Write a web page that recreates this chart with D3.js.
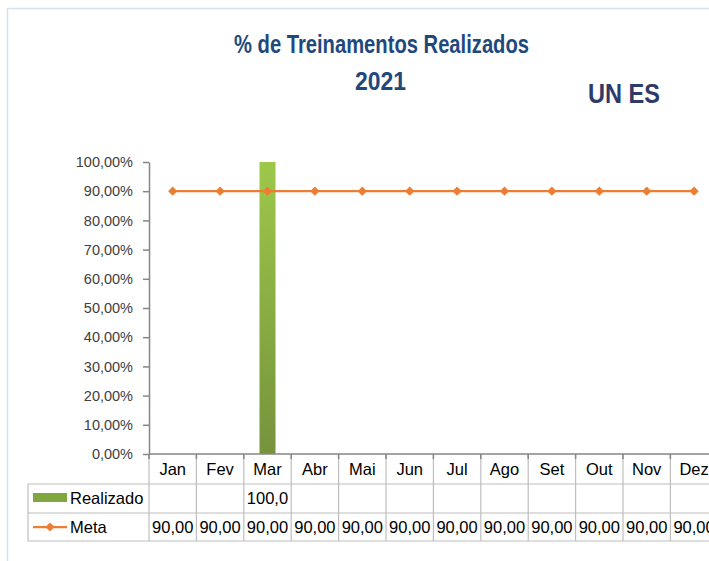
<!DOCTYPE html>
<html>
<head>
<meta charset="utf-8">
<script src="https://cdn.jsdelivr.net/npm/d3@7"></script>
<style>
  body { margin: 0; background: #fff; }
  svg { display: block; }
</style>
</head>
<body>
<div id="chart"></div>
<script>
// data
const months = ["Jan", "Fev", "Mar", "Abr", "Mai", "Jun", "Jul", "Ago", "Set", "Out", "Nov", "Dez"];
const realizado = [null, null, 100, null, null, null, null, null, null, null, null, null];
const meta = [90, 90, 90, 90, 90, 90, 90, 90, 90, 90, 90, 90];
const yTicks = [0, 10, 20, 30, 40, 50, 60, 70, 80, 90, 100];

const W = 709, H = 561;
const plotLeft = 149, step = 47.4;
const plotTop = 162, plotBottom = 454;
const rowLines = [484, 513, 541];
const tableLeft = 28;

const svg = d3.select("#chart")
  .append("svg")
  .attr("width", W)
  .attr("height", H)
  .style("font-family", "'Liberation Sans', Arial, sans-serif");

// chart area border
svg.append("rect")
  .attr("x", 7.5).attr("y", 8.5)
  .attr("width", 800).attr("height", 700)
  .attr("fill", "none")
  .attr("stroke", "#D6E1EF")
  .attr("stroke-width", 1.5);

// titles
const titleFont = "'Liberation Sans', Arial, sans-serif";
svg.append("text")
  .attr("x", 234).attr("y", 53)
  .attr("textLength", 295).attr("lengthAdjust", "spacingAndGlyphs")
  .style("font-family", titleFont).style("font-weight", "bold").style("font-size", "25px")
  .attr("fill", "#1F497D")
  .text("% de Treinamentos Realizados");

svg.append("text")
  .attr("x", 355).attr("y", 90)
  .attr("textLength", 51).attr("lengthAdjust", "spacingAndGlyphs")
  .style("font-family", titleFont).style("font-weight", "bold").style("font-size", "25px")
  .attr("fill", "#1F497D")
  .text("2021");

svg.append("text")
  .attr("x", 588).attr("y", 103)
  .attr("textLength", 72).attr("lengthAdjust", "spacingAndGlyphs")
  .style("font-family", titleFont).style("font-weight", "bold").style("font-size", "28px")
  .attr("fill", "#2E3B68")
  .text("UN ES");

// scales
const x = d3.scaleBand()
  .domain(months)
  .range([plotLeft, plotLeft + step * months.length])
  .padding(0);

const y = d3.scaleLinear()
  .domain([0, 100])
  .range([plotBottom, plotTop]);

const pct = d => d3.format(".2f")(d).replace(".", ",");

// y axis
const yAxis = svg.append("g")
  .attr("transform", `translate(${plotLeft},0)`)
  .call(d3.axisLeft(y)
    .tickValues(yTicks)
    .tickSize(6)
    .tickSizeOuter(0)
    .tickPadding(10)
    .tickFormat(d => pct(d) + "%"));
yAxis.select(".domain").attr("stroke", "#868686").attr("stroke-width", 1.5);
yAxis.selectAll(".tick line").attr("stroke", "#868686").attr("stroke-width", 1.5);
yAxis.selectAll(".tick text")
  .attr("fill", "#404040")
  .style("font-family", "'Liberation Sans', Arial, sans-serif")
  .style("font-size", "14.5px");

// bar gradient
const defs = svg.append("defs");
const grad = defs.append("linearGradient")
  .attr("id", "barGrad")
  .attr("x1", 0).attr("y1", 0).attr("x2", 0).attr("y2", 1);
grad.append("stop").attr("offset", "0%").attr("stop-color", "#9DC84A");
grad.append("stop").attr("offset", "100%").attr("stop-color", "#76933C");

// table grid
const boundaries = d3.range(months.length + 1).map(i => plotLeft + i * step);
const grid = svg.append("g").attr("stroke", "#BEBEBE").attr("stroke-width", 1.2);
grid.selectAll("line.v")
  .data(boundaries)
  .join("line")
  .attr("class", "v")
  .attr("x1", d => d).attr("x2", d => d)
  .attr("y1", plotBottom).attr("y2", rowLines[2]);
grid.selectAll("line.h")
  .data(rowLines)
  .join("line")
  .attr("class", "h")
  .attr("x1", tableLeft).attr("x2", boundaries[boundaries.length - 1])
  .attr("y1", d => d).attr("y2", d => d);
grid.append("line")
  .attr("x1", tableLeft).attr("x2", tableLeft)
  .attr("y1", rowLines[0]).attr("y2", rowLines[2]);

// bars
const barW = 16;
svg.selectAll(".bar")
  .data(months.map((m, i) => ({ m, v: realizado[i] })).filter(d => d.v != null))
  .join("rect")
  .attr("class", "bar")
  .attr("x", d => x(d.m) + x.bandwidth() / 2 - barW / 2)
  .attr("y", d => y(d.v))
  .attr("width", barW)
  .attr("height", d => y(0) - y(d.v))
  .attr("fill", "url(#barGrad)");

// x axis line + category ticks
svg.append("line")
  .attr("x1", plotLeft).attr("x2", boundaries[boundaries.length - 1])
  .attr("y1", plotBottom).attr("y2", plotBottom)
  .attr("stroke", "#868686").attr("stroke-width", 1.5);
svg.selectAll(".xtick")
  .data(boundaries)
  .join("line")
  .attr("class", "xtick")
  .attr("x1", d => d).attr("x2", d => d)
  .attr("y1", plotBottom).attr("y2", plotBottom + 5)
  .attr("stroke", "#868686").attr("stroke-width", 1.5);

// meta line
const metaData = months.map((m, i) => ({ m, v: meta[i] }));
svg.append("path")
  .datum(metaData)
  .attr("fill", "none")
  .attr("stroke", "#ED7D31")
  .attr("stroke-width", 2.25)
  .attr("d", d3.line()
    .x(d => x(d.m) + x.bandwidth() / 2)
    .y(d => y(d.v)));

const diamond = d3.symbol().type(d3.symbolSquare).size(42);
svg.selectAll(".marker")
  .data(metaData)
  .join("path")
  .attr("class", "marker")
  .attr("d", diamond)
  .attr("transform", d => `translate(${x(d.m) + x.bandwidth() / 2},${y(d.v)}) rotate(45)`)
  .attr("fill", "#ED7D31");

// table text
const tableText = svg.append("g")
  .style("font-family", "'Liberation Sans', Arial, sans-serif")
  .style("font-size", "16.5px")
  .attr("fill", "#000");

tableText.selectAll(".month")
  .data(months)
  .join("text")
  .attr("class", "month")
  .attr("x", d => x(d) + x.bandwidth() / 2)
  .attr("y", 475)
  .attr("text-anchor", "middle")
  .text(d => d);

// fit a value into its cell, dropping trailing characters like a spreadsheet
function fitCell(sel) {
  sel.each(function () {
    const t = d3.select(this);
    let s = t.text();
    while (this.getComputedTextLength() > x.bandwidth() - 3 && s.length > 1) {
      s = s.slice(0, -1);
      t.text(s);
    }
  });
}

tableText.selectAll(".real")
  .data(months.map((m, i) => ({ m, v: realizado[i] })).filter(d => d.v != null))
  .join("text")
  .attr("class", "real")
  .attr("x", d => x(d.m) + x.bandwidth() / 2)
  .attr("y", 504)
  .attr("text-anchor", "middle")
  .text(d => pct(d.v))
  .call(fitCell);

tableText.selectAll(".meta")
  .data(metaData)
  .join("text")
  .attr("class", "meta")
  .attr("x", d => x(d.m) + x.bandwidth() / 2)
  .attr("y", 533)
  .attr("text-anchor", "middle")
  .text(d => pct(d.v))
  .call(fitCell);

// legend keys in the table
svg.append("rect")
  .attr("x", 33).attr("y", 493)
  .attr("width", 34).attr("height", 9)
  .attr("fill", "#80A73E");
tableText.append("text")
  .attr("x", 70).attr("y", 504)
  .text("Realizado");

svg.append("line")
  .attr("x1", 33).attr("x2", 67)
  .attr("y1", 527).attr("y2", 527)
  .attr("stroke", "#ED7D31").attr("stroke-width", 2.25);
svg.append("path")
  .attr("d", diamond)
  .attr("transform", "translate(50,527) rotate(45)")
  .attr("fill", "#ED7D31");
tableText.append("text")
  .attr("x", 70).attr("y", 533)
  .text("Meta");
</script>
</body>
</html>
